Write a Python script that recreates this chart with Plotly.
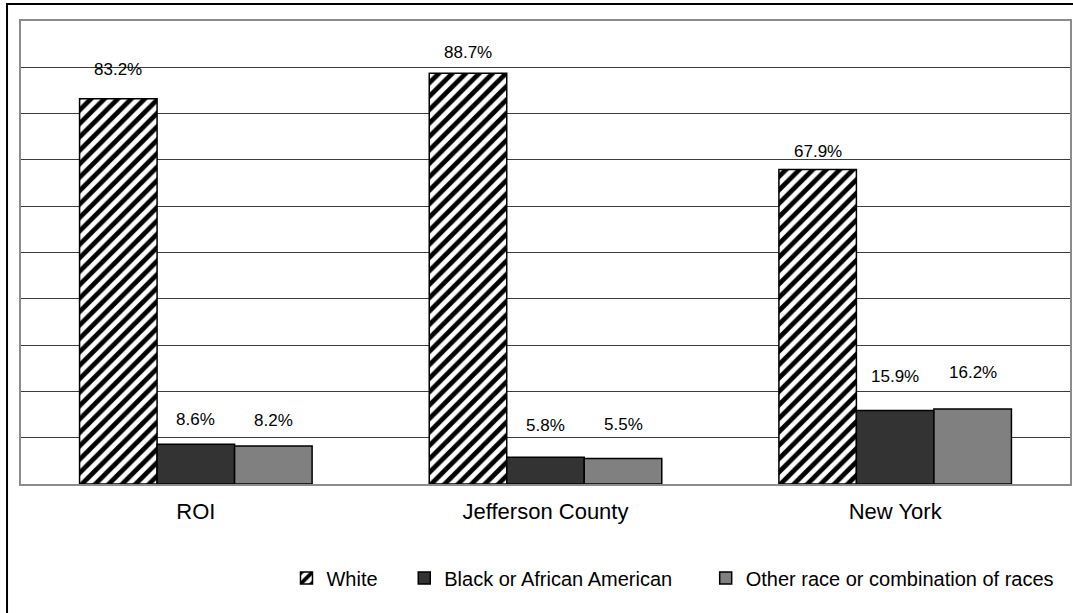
import plotly.graph_objects as go

# Population share by race, three geographies
areas = ["ROI", "Jefferson County", "New York"]
white = [83.2, 88.7, 67.9]
black = [8.6, 5.8, 15.9]
other = [8.2, 5.5, 16.2]

series_names = ["White", "Black or African American", "Other race or combination of races"]

FONT = "Liberation Sans, Arial, sans-serif"

W, H = 1073, 613
ML, MR, MT, MB = 21, 1, 21, 129
PW, PH = W - ML - MR, H - MT - MB

fig = go.Figure()
fig.add_trace(go.Bar(
    x=areas, y=white, name=series_names[0], legend="legend",
    marker=dict(color="white", line=dict(color="black", width=1.5),
                pattern=dict(shape="/", fgcolor="black", bgcolor="white",
                             fgopacity=1, size=9.5, solidity=0.5)),
))
fig.add_trace(go.Bar(
    x=areas, y=black, name=series_names[1], legend="legend2",
    marker=dict(color="#333333", line=dict(color="black", width=1.5)),
))
fig.add_trace(go.Bar(
    x=areas, y=other, name=series_names[2], legend="legend3",
    marker=dict(color="#808080", line=dict(color="black", width=1.5)),
))

# value labels above each bar
label_shift = {
    0: [29, 21, 18],
    1: [25, 32, 34],
    2: [26, 34, 36],
}
offsets = [-1, 0, 1]
for s, vals in enumerate([white, black, other]):
    for i, v in enumerate(vals):
        fig.add_annotation(
            x=i + offsets[s] * 0.222, y=v, xref="x", yref="y",
            text=f"{v:.1f}%", showarrow=False,
            yshift=label_shift[s][i], font=dict(family=FONT, size=17, color="black"),
        )

# outer frame
def px_to_paper_x(px):
    return (px - ML) / PW

def px_to_paper_y(py):
    return (H - MB - py) / PH

fig.add_shape(type="rect", xref="paper", yref="paper",
              x0=px_to_paper_x(7), x1=px_to_paper_x(1080),
              y0=px_to_paper_y(620), y1=px_to_paper_y(4),
              line=dict(color="black", width=2), fillcolor="rgba(0,0,0,0)", layer="above")

leg_common = dict(orientation="h", xanchor="left", yanchor="middle", yref="paper",
                  font=dict(family=FONT, size=20, color="black"),
                  bgcolor="rgba(0,0,0,0)", borderwidth=0)
legend_y = px_to_paper_y(578)

fig.update_layout(
    width=W, height=H,
    margin=dict(l=ML, r=MR, t=MT, b=MB),
    paper_bgcolor="white", plot_bgcolor="white",
    barmode="group", bargap=0.335, bargroupgap=0,
    showlegend=True,
    legend=dict(x=px_to_paper_x(287), y=legend_y, **leg_common),
    legend2=dict(x=px_to_paper_x(405), y=legend_y, **leg_common),
    legend3=dict(x=px_to_paper_x(707), y=legend_y, **leg_common),
    font=dict(family=FONT, color="black"),
    xaxis=dict(showline=True, linecolor="#8c8c8c", linewidth=1.5, mirror=True,
               ticks="", tickfont=dict(family=FONT, size=22, color="black"),
               ticklabelstandoff=7),
    yaxis=dict(range=[0, 100], dtick=10, showticklabels=False, showgrid=True,
               gridcolor="#3c3c3c", gridwidth=1, zeroline=False,
               showline=True, linecolor="#8c8c8c", linewidth=1.5, mirror=True),
)

fig.write_html("out.html")
